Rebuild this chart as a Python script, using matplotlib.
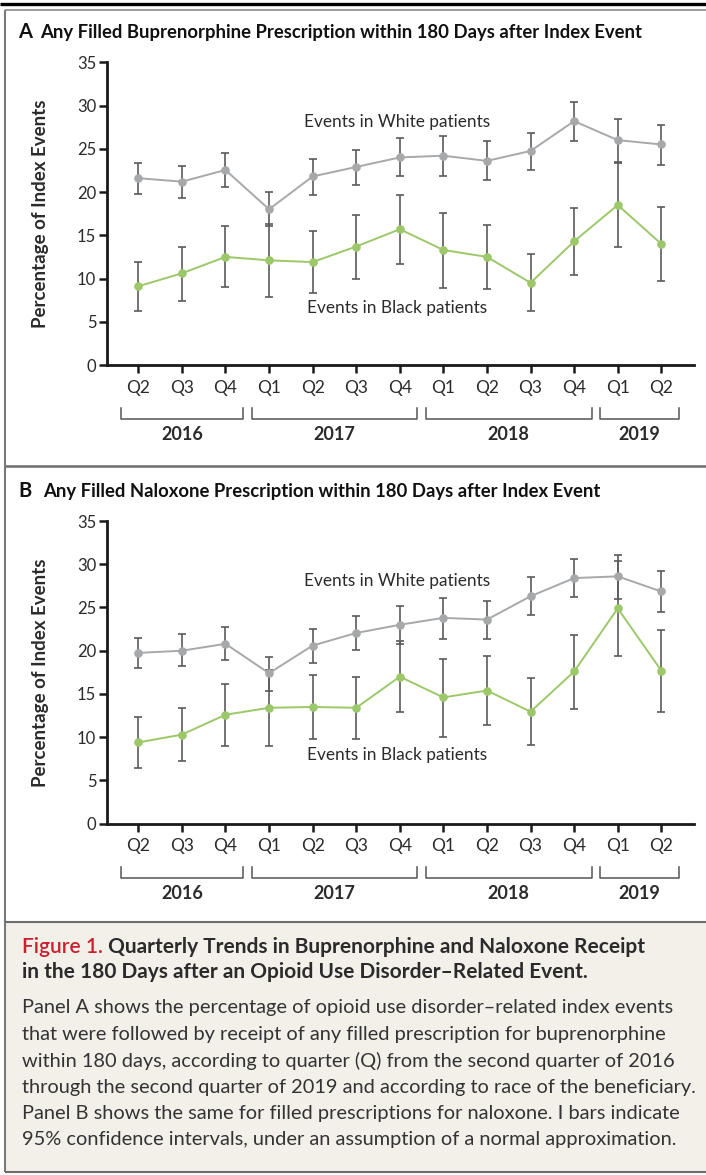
import matplotlib
matplotlib.use("Agg")
import matplotlib.pyplot as plt

plt.rcParams['font.family'] = ['Lato', 'DejaVu Sans']

# quarters from Q2 2016 to Q2 2019
quarters = ['Q2', 'Q3', 'Q4', 'Q1', 'Q2', 'Q3', 'Q4', 'Q1', 'Q2', 'Q3', 'Q4', 'Q1', 'Q2']
years = ['2016', '2017', '2018', '2019']
year_first = [0, 3, 7, 11]
year_last = [2, 6, 10, 12]

# A - buprenorphine
bup_white = [21.6, 21.2, 22.55, 18.0, 21.8, 22.9, 24.0, 24.2, 23.6, 24.75, 28.2, 26.0, 25.5]
bup_white_lo = [19.8, 19.35, 20.6, 16.1, 19.7, 20.8, 21.8, 21.8, 21.4, 22.55, 25.9, 23.5, 23.1]
bup_white_hi = [23.4, 23.05, 24.5, 20.0, 23.8, 24.9, 26.2, 26.5, 25.9, 26.8, 30.4, 28.5, 27.8]
bup_black = [9.1, 10.6, 12.5, 12.1, 11.9, 13.7, 15.7, 13.3, 12.5, 9.5, 14.3, 18.5, 14.0]
bup_black_lo = [6.2, 7.4, 9.0, 7.9, 8.3, 10.0, 11.7, 8.9, 8.8, 6.2, 10.4, 13.6, 9.7]
bup_black_hi = [11.9, 13.6, 16.1, 16.3, 15.5, 17.3, 19.7, 17.6, 16.15, 12.8, 18.2, 23.4, 18.3]

# B - naloxone
nal_white = [19.75, 20.0, 20.8, 17.4, 20.6, 22.05, 23.0, 23.8, 23.6, 26.3, 28.4, 28.6, 26.85]
nal_white_lo = [18.0, 18.2, 18.9, 15.4, 18.6, 20.05, 20.8, 21.4, 21.3, 24.1, 26.2, 26.0, 24.5]
nal_white_hi = [21.45, 21.9, 22.7, 19.25, 22.5, 24.05, 25.2, 26.1, 25.8, 28.5, 30.6, 31.1, 29.2]
nal_black = [9.4, 10.3, 12.6, 13.4, 13.5, 13.4, 17.0, 14.6, 15.4, 12.95, 17.6, 24.9, 17.7]
nal_black_lo = [6.45, 7.25, 9.0, 9.0, 9.8, 9.75, 12.9, 10.0, 11.4, 9.1, 13.3, 19.4, 12.9]
nal_black_hi = [12.3, 13.35, 16.1, 17.8, 17.25, 17.0, 21.1, 19.1, 19.4, 16.8, 21.8, 30.4, 22.4]

GRAY = '#a7a8aa'
GREEN = '#9cc86a'
BAR = '#5b5b5b'
TXT = '#2b2b2b'

W, H = 706, 1175
fig = plt.figure(figsize=(W / 100, H / 100), dpi=100)

# background / frame in pixel coordinates
bg = fig.add_axes([0, 0, 1, 1])
bg.set_xlim(0, W)
bg.set_ylim(H, 0)
bg.axis('off')
bg.fill_between([5, W], 922, 1172, color='#f3f0ea', lw=0)
bg.plot([0, W], [3.5, 3.5], color='black', lw=2.4, solid_capstyle='butt')
bg.plot([5, W], [10, 10], color='#8a8a8a', lw=1.2, solid_capstyle='butt')
bg.plot([5, 5], [10, 1172], color='#7a7a7a', lw=1.5, solid_capstyle='butt')
bg.plot([5, W], [466, 466], color='#6d6d6d', lw=1.8, solid_capstyle='butt')
bg.plot([5, W], [922, 922], color='#6d6d6d', lw=1.5, solid_capstyle='butt')
bg.plot([5, W], [1172, 1172], color='#6d6d6d', lw=1.5, solid_capstyle='butt')


def panel(top_px, letter, title, white, wlo, whi, black, blo, bhi, ylab_white, ylab_black):
    bottom_px = top_px + 302.7
    ax = fig.add_axes([106.7 / W, 1 - bottom_px / H, (694 - 106.7) / W, 302.7 / H])
    x = list(range(len(quarters)))

    for vals, lo, hi, col in [(white, wlo, whi, GRAY), (black, blo, bhi, GREEN)]:
        yerr = [[v - l for v, l in zip(vals, lo)], [h - v for v, h in zip(vals, hi)]]
        ax.errorbar(x, vals, yerr=yerr, fmt='none', ecolor=BAR, elinewidth=1.2,
                    capsize=3.2, capthick=1.2, zorder=2)
        ax.plot(x, vals, color=col, lw=1.4, marker='o', markersize=6.2,
                markeredgewidth=0, zorder=3)

    ax.set_xlim(-0.725, 12.75)
    ax.set_ylim(0, 35)
    ax.set_yticks(range(0, 36, 5))
    ax.set_xticks(x)
    ax.set_xticklabels(quarters)
    for s in ['top', 'right']:
        ax.spines[s].set_visible(False)
    for s in ['left', 'bottom']:
        ax.spines[s].set_linewidth(2)
        ax.spines[s].set_color('#1a1a1a')
    ax.tick_params(axis='y', length=6, width=1.8, pad=1.5, labelsize=12,
                   labelcolor=TXT, color='#1a1a1a')
    ax.tick_params(axis='x', length=6, width=1.8, pad=4.5, labelsize=12.5,
                   labelcolor=TXT, color='#1a1a1a')
    ax.set_ylabel('Percentage of Index Events', fontsize=13.5, fontweight='bold',
                  color=TXT)
    ax.yaxis.set_label_coords(-0.098, 0.5)

    # year brackets under the quarter labels
    tr = ax.get_xaxis_transform()
    for yr, a, b in zip(years, year_first, year_last):
        x0, x1 = a - 0.4, b + 0.4
        ax.plot([x0, x0, x1, x1], [-0.142, -0.178, -0.178, -0.142], transform=tr,
                color='#555555', lw=1.1, clip_on=False)
        ax.text((a + b) / 2, -0.23, yr, transform=tr, ha='center', va='center',
                fontsize=13, fontweight='bold', color=TXT)

    ax.text(5.93, ylab_white, 'Events in White patients', ha='center', va='center',
            fontsize=12.4, color=TXT)
    ax.text(5.93, ylab_black, 'Events in Black patients', ha='center', va='center',
            fontsize=12.4, color=TXT)

    ty = top_px - 30
    bg.text(18, ty, letter, ha='left', va='center', fontsize=14.5, fontweight='bold', color='#111111')
    bg.text(40 if letter == 'A' else 43, ty, title, ha='left', va='center',
            fontsize=13.3, fontweight='bold', color='#111111')
    return ax


panel(62.3, 'A', 'Any Filled Buprenorphine Prescription within 180 Days after Index Event',
      bup_white, bup_white_lo, bup_white_hi, bup_black, bup_black_lo, bup_black_hi, 28.1, 6.6)
panel(521, 'B', 'Any Filled Naloxone Prescription within 180 Days after Index Event',
      nal_white, nal_white_lo, nal_white_hi, nal_black, nal_black_lo, nal_black_hi, 28.1, 8.0)

# caption
t1 = bg.text(22, 947, 'Figure 1.', ha='left', va='center', fontsize=15,
             color='#c8202f', fontweight='semibold')
bg.annotate(' Quarterly Trends in Buprenorphine and Naloxone Receipt', xy=(1, 0.5),
            xycoords=t1, ha='left', va='center', fontsize=15, fontweight='bold', color=TXT)
bg.text(22, 972, 'in the 180 Days after an Opioid Use Disorder\u2013Related Event.',
        ha='left', va='center', fontsize=15, fontweight='bold', color=TXT)

body = [
    'Panel A shows the percentage of opioid use disorder\u2013related index events',
    'that were followed by receipt of any filled prescription for buprenorphine',
    'within 180 days, according to quarter (Q) from the second quarter of 2016',
    'through the second quarter of 2019 and according to race of the beneficiary.',
    'Panel B shows the same for filled prescriptions for naloxone. I bars indicate',
    '95% confidence intervals, under an assumption of a normal approximation.',
]
for i, line in enumerate(body):
    bg.text(22, 1008 + i * 26.4, line, ha='left', va='center', fontsize=14.45, color='#333333')

fig.savefig('out.png', dpi=100)
